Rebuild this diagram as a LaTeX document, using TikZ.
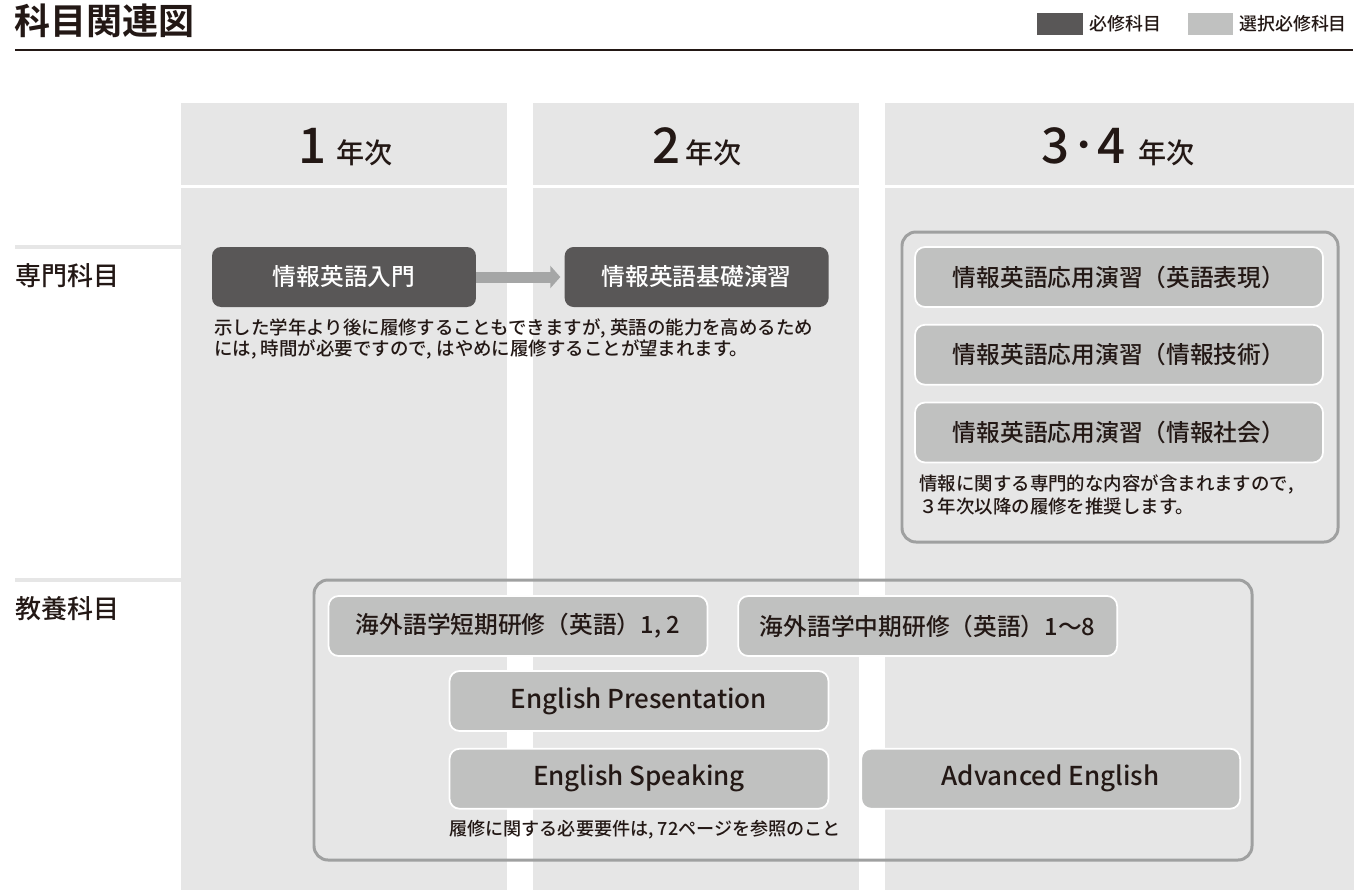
\documentclass[tikz,border=0pt]{standalone}
\usepackage{fontspec}
\setmainfont{Noto Sans CJK JP}[UprightFont={* Medium},BoldFont={* Bold}]
\usetikzlibrary{positioning,arrows.meta}

\definecolor{colbg}{HTML}{E6E6E6}
\definecolor{reqgray}{HTML}{595757}
\definecolor{optgray}{HTML}{C0C1C0}
\definecolor{linegray}{HTML}{9FA0A0}
\definecolor{arrowgray}{HTML}{A5A6A6}
\definecolor{ink}{HTML}{231815}

\begin{document}
\begin{tikzpicture}[x=0.02cm,y=-0.02cm,node distance=0.32cm,text=ink,
    req node/.style={rectangle,rounded corners=0.18cm,fill=reqgray,text=white,
      minimum width=5.28cm,minimum height=1.2cm,font=\fontsize{13.5}{16}\selectfont},
    opt node/.style={rectangle,rounded corners=0.2cm,fill=optgray,draw=white,line width=1pt,
      minimum height=1.2cm,font=\fontsize{13.5}{16}\selectfont},
    latin node/.style={opt node,minimum width=7.58cm,font=\fontsize{14.8}{16}\selectfont},
    note/.style={anchor=west,align=left,inner sep=0pt,font=\fontsize{10.5}{11.5}\selectfont},
    year label/.style={anchor=base,inner sep=0pt},
    row label/.style={anchor=west,inner sep=0pt,font=\fontsize{14.8}{16}\selectfont},
    group box/.style={draw=linegray,line width=1.7pt,rounded corners=0.28cm}]
  \useasboundingbox (0,0) rectangle (1357,890);

  % title and legend
  \node[anchor=west,inner sep=0pt,font=\fontsize{20.5}{22}\selectfont\bfseries] (title) at (14,21) {科目関連図};
  \draw[ink,line width=1.7pt] (15,50) -- (1353,50);
  \fill[reqgray] (1037,13) rectangle (1083,35);
  \node[anchor=west,inner sep=0pt,font=\fontsize{10.2}{12}\selectfont] (legreq) at (1089,24) {必修科目};
  \fill[optgray] (1188,13) rectangle (1233,35);
  \node[anchor=west,inner sep=0pt,font=\fontsize{10.2}{12}\selectfont] (legopt) at (1239,24) {選択必修科目};

  % year columns
  \foreach \l/\r in {181/507,533/859,885/1354}{
    \fill[colbg] (\l,103) rectangle (\r,890);
    \draw[white,line width=0.06cm] (\l,186) -- (\r,186);
  }
  \node[year label] (y1) at (346,163) {\fontsize{28}{28}\selectfont 1\hspace{0.2em}\fontsize{16}{16}\selectfont 年次};
  \node[year label] (y2) at (697,163) {\fontsize{28}{28}\selectfont 2\hspace{0.1em}\fontsize{16}{16}\selectfont 年次};
  \node[year label] (y34) at (1118,163) {\fontsize{28}{28}\selectfont 3\hspace{-0.05em}\raisebox{3pt}{\fontsize{19}{19}\selectfont ・}\hspace{-0.05em}4\hspace{0.25em}\fontsize{16}{16}\selectfont 年次};

  % row labels
  \draw[colbg,line width=0.08cm] (15,247) -- (181,247);
  \node[row label] (senmon) at (15,276) {専門科目};
  \draw[colbg,line width=0.08cm] (15,580) -- (181,580);
  \node[row label] (kyoyo) at (15,609) {教養科目};

  % senmon
  \node[req node] (nyumon) at (344,277) {情報英語入門};
  \node[req node,right=1.76cm of nyumon] (kiso) {情報英語基礎演習};
  \draw[-{Triangle[length=0.2cm,width=0.44cm]},arrowgray,line width=0.22cm,shorten >=0.08cm] (nyumon) -- (kiso);
  \node[note] (note1) at (214,339) {示した学年より後に履修することもできますが, 英語の能力を高めるため\\には, 時間が必要ですので, はやめに履修することが望まれます。};

  \draw[group box] (902,232) rectangle (1338,542);
  \node[opt node,minimum width=8.16cm] (eigo) at (1119,277) {情報英語応用演習（英語表現）};
  \node[opt node,minimum width=8.16cm,below=of eigo] (gijutsu) {情報英語応用演習（情報技術）};
  \node[opt node,minimum width=8.16cm,below=of gijutsu] (shakai) {情報英語応用演習（情報社会）};
  \node[note,font=\fontsize{10.5}{13.5}\selectfont] (note2) at (919,495) {情報に関する専門的な内容が含まれますので,\\３年次以降の履修を推奨します。};

  % kyoyo
  \draw[group box] (314,580) rectangle (1252,860);
  \node[opt node,minimum width=7.58cm] (tanki) at (518,626) {海外語学短期研修（英語）1, 2};
  \node[opt node,minimum width=7.58cm,right=0.58cm of tanki] (chuki) {海外語学中期研修（英語）1〜8};
  \node[latin node] (pres) at (639,701) {English Presentation};
  \node[latin node,below=of pres] (speak) {English Speaking};
  \node[latin node,right=0.62cm of speak] (adv) {Advanced English};
  \node[note,font=\fontsize{10.3}{12}\selectfont] (note3) at (449,830) {履修に関する必要要件は, 72ページを参照のこと};
\end{tikzpicture}
\end{document}
